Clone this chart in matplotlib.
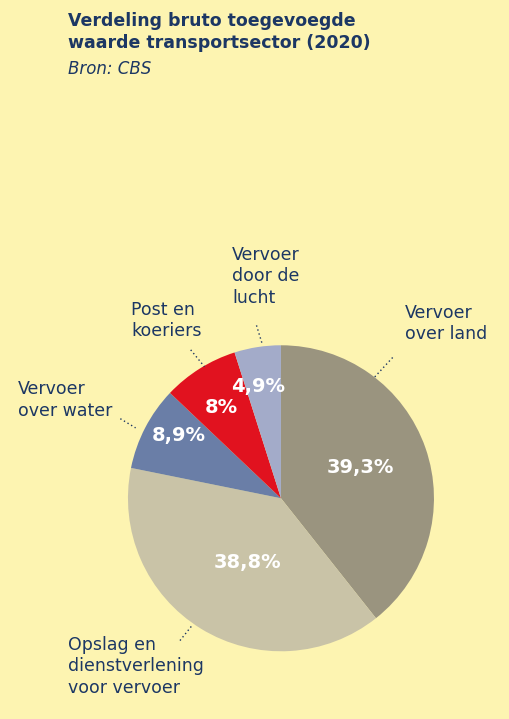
import matplotlib.pyplot as plt
import numpy as np

labels = ['Vervoer\nover land', 'Opslag en\ndienstverlening\nvoor vervoer',
          'Vervoer\nover water', 'Post en\nkoeriers', 'Vervoer\ndoor de\nlucht']
values = [39.3, 38.8, 8.9, 8.0, 4.9]
pct_text = ['39,3%', '38,8%', '8,9%', '8%', '4,9%']
colors = ['#9a947f', '#c9c3a7', '#6a7ea7', '#e1121f', '#a3abc9']

BG = '#fdf4b1'
NAVY = '#1c3764'

fig = plt.figure(figsize=(5.09, 7.19), dpi=100, facecolor=BG)
fig.text(68 / 509, 1 - 12 / 719, 'Verdeling bruto toegevoegde\nwaarde transportsector (2020)',
         ha='left', va='top', color=NAVY, fontsize=12.5, fontweight='bold',
         linespacing=1.25)
fig.text(68 / 509, 1 - 60 / 719, 'Bron: CBS', ha='left', va='top', color=NAVY,
         fontsize=12, style='italic')

ax = fig.add_axes([0.552 - 0.3006, 0.307 - 0.2128, 0.6012, 0.4256])
ax.set_facecolor(BG)
ax.pie(values, colors=colors, startangle=90, counterclock=False, radius=1,
       wedgeprops=dict(linewidth=0))
ax.set_xlim(-1, 1)
ax.set_ylim(-1, 1)
ax.set_aspect('equal')
ax.axis('off')

pct_pos = [(0.52, 0.20), (-0.22, -0.42), (-0.67, 0.41), (-0.39, 0.59), (-0.15, 0.73)]
for t, (x, y) in zip(pct_text, pct_pos):
    ax.text(x, y, t, ha='center', va='center', color='white', fontsize=14,
            fontweight='bold')

label_pos = [(0.81, 1.27), (-1.39, -0.90), (-1.72, 0.77), (-0.98, 1.29), (-0.32, 1.65)]
for t, (x, y) in zip(labels, label_pos):
    ax.text(x, y, t, ha='left', va='top', color=NAVY, fontsize=12.5,
            clip_on=False, linespacing=1.25)

leaders = [((0.73, 0.92), (0.61, 0.79)), ((-0.66, -0.93), (-0.58, -0.83)),
           ((-1.05, 0.52), (-0.95, 0.46)), ((-0.59, 0.97), (-0.50, 0.86)),
           ((-0.16, 1.13), (-0.12, 1.0))]
for (x0, y0), (x1, y1) in leaders:
    ax.plot([x0, x1], [y0, y1], color=NAVY, lw=1, ls=(0, (1, 2)), clip_on=False)

plt.savefig('out.png', dpi=100, facecolor=BG)
